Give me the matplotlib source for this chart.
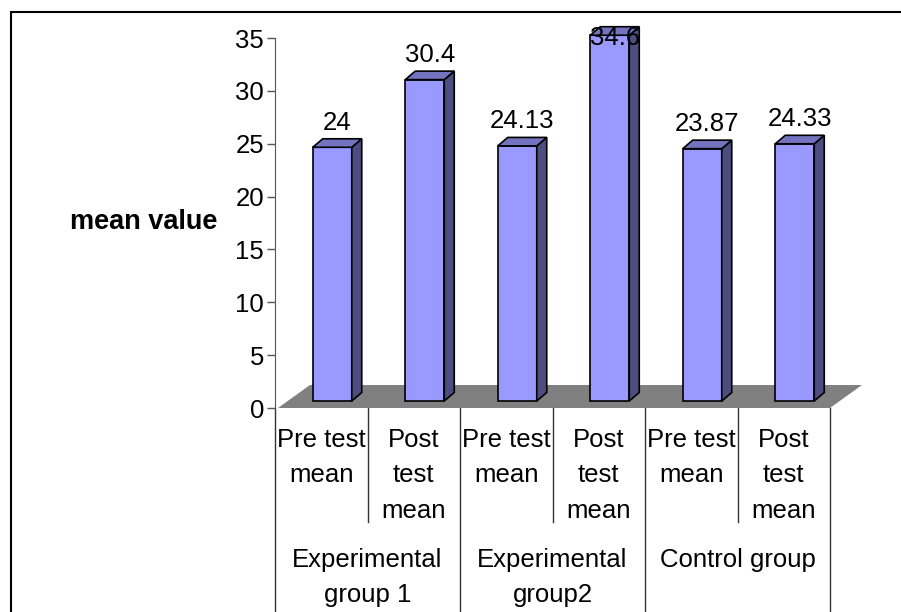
import matplotlib
matplotlib.use("Agg")
import matplotlib.pyplot as plt
from matplotlib.patches import Polygon, Rectangle

plt.rcParams['font.family'] = ['Liberation Sans', 'DejaVu Sans']

# data
sub_labels = ["Pre test\nmean", "Post\ntest\nmean", "Pre test\nmean", "Post\ntest\nmean",
              "Pre test\nmean", "Post\ntest\nmean"]
group_labels = ["Experimental\ngroup 1", "Experimental\ngroup2", "Control group"]
values = [24, 30.4, 24.13, 34.6, 23.87, 24.33]

FS = 18.5
W, H = 901, 612

fig = plt.figure(figsize=(W / 100, H / 100), dpi=100)
fig.patch.set_facecolor("white")
# plot area in pixels: x 275..830, y 38..408
ax = fig.add_axes([275 / W, (H - 408) / H, 555 / W, 370 / H])
ax.set_xlim(0, 6)
ax.set_ylim(0, 35)
PX = 6 / 555    # category units per pixel
PY = 35 / 370   # value units per pixel

for s in ["top", "right", "bottom"]:
    ax.spines[s].set_visible(False)
ax.spines["left"].set_color("#555555")
ax.set_xticks([])
ax.set_yticks(range(0, 36, 5))
ax.tick_params(axis="y", length=6, width=1, color="#555555", pad=2, labelsize=FS)

# floor
floor = Polygon([(3 * PX, 0), (6, 0), (6 + 32 * PX, 23 * PY), (35 * PX, 23 * PY)],
                closed=True, facecolor="#808080", edgecolor="none", zorder=1, clip_on=False)
ax.add_patch(floor)

# 3d bars
front_c, top_c, side_c = "#9999FF", "#7373BF", "#4D4D80"
dx, dy = 10 * PX, 8.5 * PY
xs = [i + 0.5 + 11 * PX for i in range(len(values))]
bars = ax.bar(xs, values, width=39 * PX, bottom=7 * PY, color=front_c,
              edgecolor="black", linewidth=1.2, zorder=3, clip_on=False)
for b, v in zip(bars, values):
    x0, y0 = b.get_x(), b.get_y()
    x1, y1 = x0 + b.get_width(), y0 + b.get_height()
    side = Polygon([(x1, y0), (x1 + dx, y0 + dy), (x1 + dx, y1 + dy), (x1, y1)],
                   facecolor=side_c, edgecolor="black", linewidth=1.2, zorder=3, clip_on=False)
    top = Polygon([(x0, y1), (x1, y1), (x1 + dx, y1 + dy), (x0 + dx, y1 + dy)],
                  facecolor=top_c, edgecolor="black", linewidth=1.2, zorder=3, clip_on=False)
    ax.add_patch(side)
    ax.add_patch(top)
    ax.text(x0 + (b.get_width() + dx) / 2, min(v + 3.0, 35), f"{v:g}", ha="center",
            va="center", fontsize=FS, zorder=5, clip_on=False)

# category axis dividers and labels
tr = ax.get_xaxis_transform()
for i in range(1, 6, 2):
    ax.plot([i, i], [0, -114 / 370], color="#333333", lw=1, transform=tr, clip_on=False)
for i in range(0, 7, 2):
    ax.plot([i, i], [0, -0.7], color="#333333", lw=1, transform=tr, clip_on=False)
for i, lab in enumerate(sub_labels):
    ax.text(i + 0.5, -20 / 370, lab, transform=tr, ha="center", va="top",
            fontsize=FS, linespacing=1.6)
for i, lab in enumerate(group_labels):
    ax.text(2 * i + 1, -140 / 370, lab, transform=tr, ha="center", va="top",
            fontsize=FS, linespacing=1.6)

fig.text(144 / W, 1 - 222 / H, "mean value", ha="center", va="center",
         fontsize=FS + 1, fontweight="bold")

# outer frame (cut off at right and bottom)
fig.add_artist(Rectangle((11 / W, -0.1), 1.2, 1.1 - 12 / H, transform=fig.transFigure,
                         fill=False, edgecolor="black", linewidth=1.5))

fig.savefig("out.png", dpi=100)
